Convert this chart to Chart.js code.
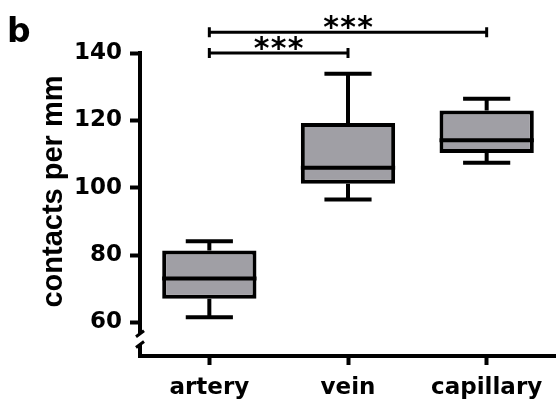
<!DOCTYPE html>
<html>
<head>
<meta charset="utf-8">
<script src="https://cdn.jsdelivr.net/npm/chart.js@4.4.1/dist/chart.umd.min.js"></script>
<style>
  html, body { margin: 0; padding: 0; background: #fff; }
</style>
</head>
<body>
<canvas id="chart" width="556" height="409"></canvas>
<script>
// Datos
const categories = ['artery', 'vein', 'capillary'];
const whiskerLow = [61.5, 96.5, 107.4];
const q1 = [67.0, 101.2, 110.3];
const median = [73.0, 105.9, 114.1];
const q3 = [81.3, 119.2, 122.9];
const whiskerHigh = [84.1, 133.8, 126.4];
const yTicks = [60, 80, 100, 120, 140];
const yTitle = 'contacts per mm';

// Comparaciones significativas: [desde, hasta], altura y etiqueta
const sigPairs = [[0, 1], [0, 2]];
const sigLevels = [140, 146.2];
const sigLabels = ['***', '***'];
const panelLabel = 'b';

const FONT = 'DejaVu Sans';
const LW = 4;

Chart.defaults.font.family = FONT;
Chart.defaults.color = '#000';

// Mediana, bigotes, barras de significancia, título y corte del eje
const boxExtras = {
    id: 'boxExtras',
    afterDatasetsDraw(chart) {
        const ctx = chart.ctx;
        const y = chart.scales.y;
        const meta = chart.getDatasetMeta(0);
        ctx.save();
        ctx.strokeStyle = '#000';
        ctx.lineWidth = LW;
        meta.data.forEach((bar, i) => {
            const x = bar.x, w = bar.width;
            const yMed = y.getPixelForValue(median[i]);
            const yQ1 = y.getPixelForValue(q1[i]);
            const yQ3 = y.getPixelForValue(q3[i]);
            const yLo = y.getPixelForValue(whiskerLow[i]);
            const yHi = y.getPixelForValue(whiskerHigh[i]);
            ctx.beginPath();
            ctx.moveTo(x - w / 2, yMed); ctx.lineTo(x + w / 2, yMed);
            // bigote superior
            ctx.moveTo(x, yQ3); ctx.lineTo(x, yHi);
            ctx.moveTo(x - w / 4, yHi); ctx.lineTo(x + w / 4, yHi);
            // bigote inferior
            ctx.moveTo(x, yQ1); ctx.lineTo(x, yLo);
            ctx.moveTo(x - w / 4, yLo); ctx.lineTo(x + w / 4, yLo);
            ctx.stroke();
        });
        ctx.restore();
    },
    afterDraw(chart) {
        const ctx = chart.ctx;
        const x = chart.scales.x, y = chart.scales.y;
        const area = chart.chartArea;
        ctx.save();
        ctx.strokeStyle = '#000';
        ctx.fillStyle = '#000';
        ctx.lineWidth = 3;

        sigPairs.forEach((pair, k) => {
            const x1 = x.getPixelForValue(pair[0]);
            const x2 = x.getPixelForValue(pair[1]);
            const yb = y.getPixelForValue(sigLevels[k]);
            ctx.beginPath();
            ctx.moveTo(x1, yb); ctx.lineTo(x2, yb);
            ctx.moveTo(x1, yb - 5); ctx.lineTo(x1, yb + 5);
            ctx.moveTo(x2, yb - 5); ctx.lineTo(x2, yb + 5);
            ctx.stroke();
            const mid = (x1 + x2) / 2;
            ctx.font = 'bold 30px ' + FONT;
            ctx.textAlign = 'center';
            ctx.textBaseline = 'alphabetic';
            const stars = sigLabels[k].split('');
            stars.forEach((s, j) => {
                ctx.fillText(s, mid + (j - (stars.length - 1) / 2) * 17, yb + 5);
            });
        });

        // corte del eje y
        const x0 = area.left;
        const yTop = y.getPixelForValue(56.6);
        const yBot = y.getPixelForValue(53.4);
        ctx.fillStyle = '#fff';
        ctx.fillRect(x0 - 3, yTop, 6, yBot - yTop);
        ctx.beginPath();
        ctx.moveTo(x0 + 4, yTop - 3); ctx.lineTo(x0 - 4, yTop + 3);
        ctx.moveTo(x0 + 4, yBot - 3); ctx.lineTo(x0 - 4, yBot + 3);
        ctx.stroke();

        // título del eje y
        ctx.fillStyle = '#000';
        ctx.save();
        ctx.translate(62, (area.top + area.bottom) / 2 - 13);
        ctx.rotate(-Math.PI / 2);
        ctx.font = 'bold 29px "Liberation Sans"';
        ctx.textAlign = 'center';
        ctx.textBaseline = 'alphabetic';
        ctx.fillText(yTitle, 0, 0);
        ctx.restore();

        // etiqueta del panel
        ctx.font = 'bold 33px ' + FONT;
        ctx.textAlign = 'left';
        ctx.textBaseline = 'alphabetic';
        ctx.fillText(panelLabel, 7, 42);
        ctx.restore();
    }
};

const ctx = document.getElementById('chart').getContext('2d');
new Chart(ctx, {
    type: 'bar',
    data: {
        labels: categories,
        datasets: [{
            data: categories.map((c, i) => [q1[i], q3[i]]),
            backgroundColor: '#a09fa5',
            borderColor: '#000',
            borderWidth: LW,
            borderSkipped: false,
            barPercentage: 0.68,
            categoryPercentage: 1
        }]
    },
    options: {
        responsive: false,
        animation: false,
        layout: { padding: { top: 53, right: 0, bottom: 0, left: 0 } },
        plugins: { legend: { display: false }, tooltip: { enabled: false } },
        scales: {
            x: {
                offset: true,
                grid: { offset: false, drawOnChartArea: false, tickLength: 9, tickWidth: LW, tickColor: '#000' },
                border: { display: true, color: '#000', width: LW },
                ticks: { color: '#000', font: { size: 23, weight: 'bold' }, padding: 9 },
                afterFit: s => { s.height = 53; }
            },
            y: {
                min: 50,
                max: 140,
                afterBuildTicks: s => { s.ticks = yTicks.map(v => ({ value: v })); },
                grid: { drawOnChartArea: false, tickLength: 10, tickWidth: LW, tickColor: '#000' },
                border: { display: true, color: '#000', width: LW },
                ticks: { color: '#000', font: { size: 23, weight: 'bold' }, padding: 8 },
                afterFit: s => { s.width = 140; }
            }
        }
    },
    plugins: [boxExtras]
});
</script>
</body>
</html>
